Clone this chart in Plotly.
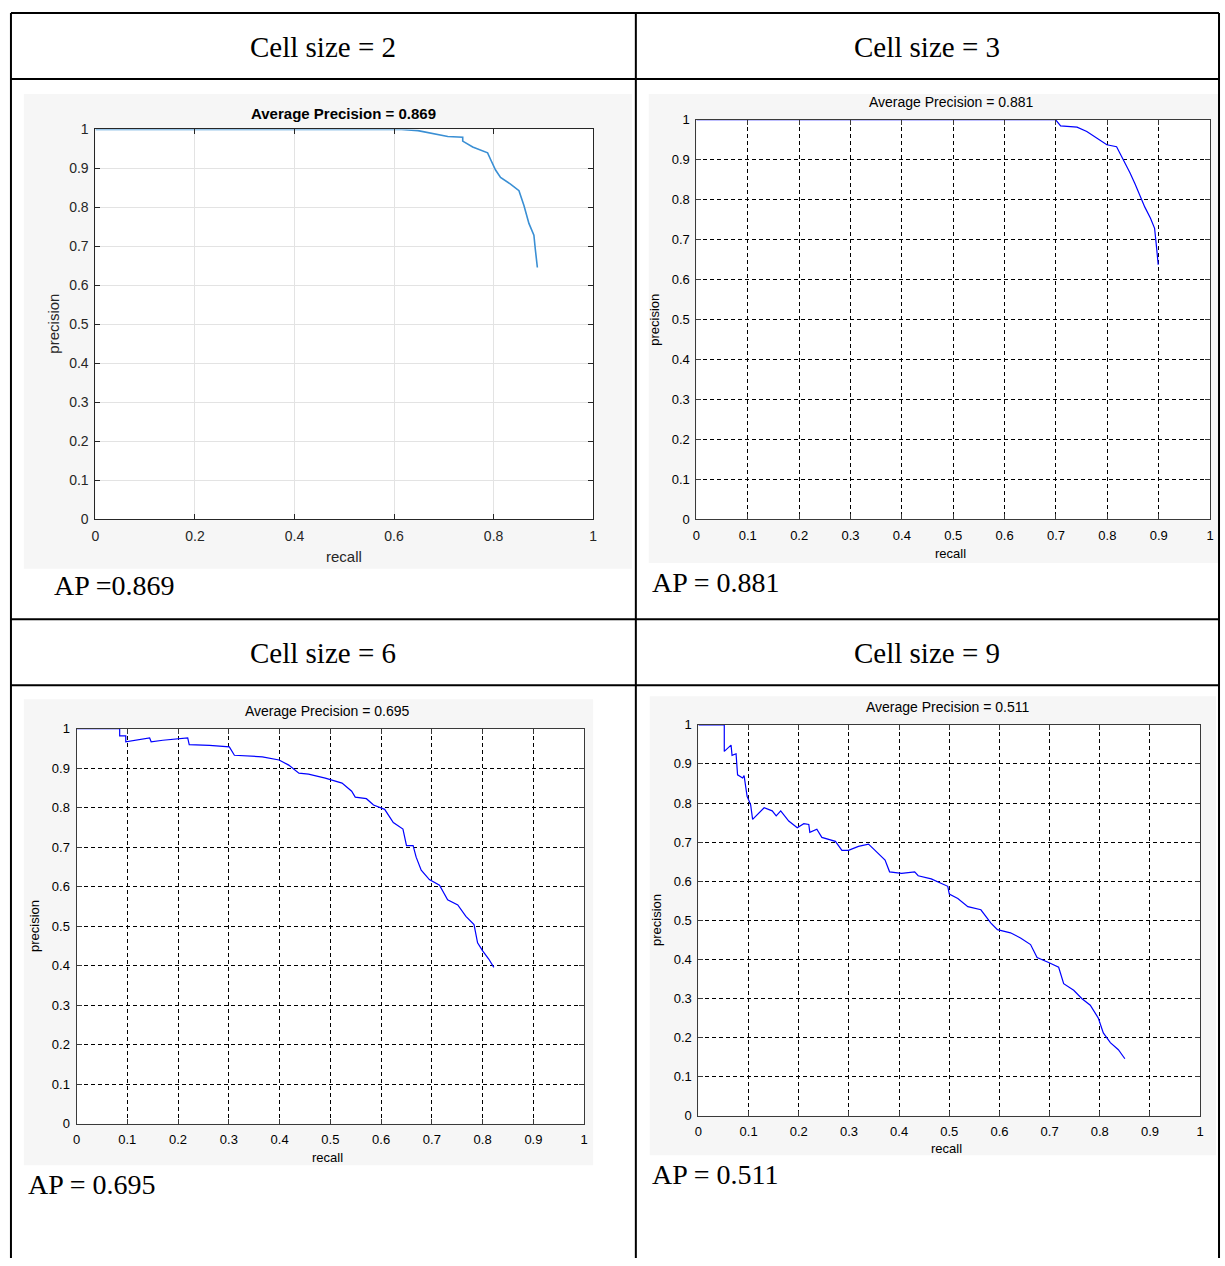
import plotly.graph_objects as go

W, H = 1225, 1266

# ---------------- data ----------------
headers = ["Cell size = 2", "Cell size = 3", "Cell size = 6", "Cell size = 9"]
titles = ["Average Precision = 0.869", "Average Precision = 0.881",
          "Average Precision = 0.695", "Average Precision = 0.511"]
ap_texts = ["AP =0.869", "AP = 0.881", "AP = 0.695", "AP = 0.511"]

recall_2 = [0, 0.615, 0.648, 0.708, 0.738, 0.738, 0.758, 0.788, 0.794, 0.804, 0.814,
            0.834, 0.851, 0.861, 0.871, 0.881, 0.884, 0.888]
precision_2 = [1, 1, 0.997, 0.982, 0.98, 0.97, 0.955, 0.94, 0.923, 0.896, 0.877,
               0.86, 0.843, 0.805, 0.759, 0.729, 0.691, 0.646]

recall_3 = [0, 0.699, 0.709, 0.741, 0.760, 0.779, 0.799, 0.818, 0.831, 0.844, 0.854,
            0.863, 0.873, 0.884, 0.892, 0.896, 0.899]
precision_3 = [1, 1, 0.984, 0.981, 0.970, 0.954, 0.937, 0.932, 0.9, 0.867, 0.839,
               0.81, 0.781, 0.753, 0.728, 0.678, 0.637]

recall_6 = [0, 0.085, 0.085, 0.097, 0.097, 0.144, 0.147, 0.17, 0.219, 0.222, 0.262,
            0.301, 0.311, 0.366, 0.399, 0.418, 0.438, 0.457, 0.49, 0.523, 0.542,
            0.549, 0.571, 0.585, 0.607, 0.624, 0.643, 0.65, 0.663, 0.669, 0.679,
            0.695, 0.715, 0.731, 0.751, 0.767, 0.783, 0.79, 0.80, 0.812, 0.822]
precision_6 = [1, 1, 0.982, 0.982, 0.967, 0.977, 0.967, 0.971, 0.977, 0.96, 0.958,
               0.954, 0.933, 0.929, 0.921, 0.908, 0.8875, 0.885, 0.875, 0.8625, 0.842,
               0.827, 0.823, 0.807, 0.796, 0.7625, 0.746, 0.704, 0.704, 0.675, 0.642,
               0.618, 0.604, 0.567, 0.554, 0.525, 0.504, 0.458, 0.4375, 0.417, 0.396]

recall_9 = [0, 0.0515, 0.0515, 0.065, 0.067, 0.075, 0.078, 0.088, 0.091, 0.097, 0.104,
            0.108, 0.131, 0.147, 0.155, 0.164, 0.18, 0.197, 0.21, 0.22, 0.222, 0.236,
            0.246, 0.273, 0.286, 0.299, 0.319, 0.339, 0.352, 0.372, 0.381, 0.405,
            0.431, 0.438, 0.464, 0.497, 0.5, 0.517, 0.537, 0.563, 0.583, 0.596,
            0.622, 0.642, 0.662, 0.675, 0.698, 0.718, 0.728, 0.748, 0.764, 0.781,
            0.797, 0.807, 0.821, 0.837, 0.85]
precision_9 = [1, 1, 0.932, 0.948, 0.922, 0.926, 0.872, 0.864, 0.87, 0.817, 0.796,
               0.758, 0.788, 0.78, 0.767, 0.78, 0.754, 0.737, 0.747, 0.745, 0.725, 0.733,
               0.712, 0.702, 0.679, 0.679, 0.689, 0.695, 0.679, 0.654, 0.624, 0.62,
               0.624, 0.614, 0.606, 0.587, 0.567, 0.556, 0.535, 0.527, 0.493, 0.476,
               0.468, 0.455, 0.438, 0.405, 0.392, 0.38, 0.338, 0.321, 0.3, 0.283,
               0.25, 0.212, 0.187, 0.169, 0.146]

series = [(recall_2, precision_2), (recall_3, precision_3),
          (recall_6, precision_6), (recall_9, precision_9)]

# ---------------- layout helpers ----------------
def px(x):
    return x / W

def py(y):
    return 1 - y / H

# plot-area boxes in pixels: (x0, x1, ytop, ybottom)
boxes = [(92, 593, 123, 518), (697, 1214, 113, 518),
         (73, 584, 730, 1130), (699, 1204, 726, 1122)]
panels = [(20, 632, 87, 568), (649, 1222, 87, 562),
          (20, 593, 700, 1172), (650, 1220, 697, 1162)]
title_pos = [(342, 107), (954, 95), (326, 712), (950, 708)]
xlabel_pos = [(342, 556), (953, 552), (326, 1164), (949, 1155)]
ylabel_pos = [(50, 320), (654, 316), (30, 930), (657, 924)]
ap_pos = [(48, 585), (650, 582), (22, 1192), (650, 1181)]
header_pos = [(321, 39), (929, 39), (321, 653), (929, 653)]

fig = go.Figure()
shapes = []
annotations = []
layout = {}

for i in range(4):
    n = "" if i == 0 else str(i + 1)
    r, p = series[i]
    modern = (i == 0)
    fig.add_trace(go.Scatter(
        x=r, y=p, mode="lines",
        line=dict(color="#3a8fd4" if modern else "#0000ff",
                  width=1.6 if modern else 1.2),
        xaxis="x" + n, yaxis="y" + n, showlegend=False, hoverinfo="skip"))

    x0, x1, yt, yb = boxes[i]
    fontsz = 14 if modern else 13
    tickcol = "#262626" if modern else "#000000"
    common = dict(
        range=[0, 1], showline=True, linewidth=1,
        linecolor="#262626" if modern else "#3a3a3a",
        mirror="ticks", ticks="inside", ticklen=5, tickwidth=1,
        tickcolor="#262626" if modern else "#3a3a3a",
        showgrid=True, gridwidth=1,
        gridcolor="#e3e3e3" if modern else "#000000",
        griddash="solid" if modern else "4px,3px",
        zeroline=False, fixedrange=True,
        tickfont=dict(family="Liberation Sans, Arial", size=fontsz, color=tickcol),
    )
    xa = dict(common, domain=[px(x0), px(x1)], anchor="y" + n,
              tick0=0, dtick=0.2 if modern else 0.1, ticklabelstandoff=4)
    ya = dict(common, domain=[py(yb), py(yt)], anchor="x" + n,
              tick0=0, dtick=0.1, ticklabelstandoff=3)
    layout["xaxis" + n] = xa
    layout["yaxis" + n] = ya

    # gray figure panel and white axes background
    gx0, gx1, gy0, gy1 = panels[i]
    shapes.append(dict(type="rect", xref="paper", yref="paper", layer="below",
                       x0=px(gx0), x1=px(gx1), y0=py(gy1), y1=py(gy0),
                       fillcolor="#f6f6f6", line=dict(width=0)))
    shapes.append(dict(type="rect", xref="paper", yref="paper", layer="below",
                       x0=px(x0), x1=px(x1), y0=py(yb), y1=py(yt),
                       fillcolor="#ffffff", line=dict(width=0)))

    tx, ty = title_pos[i]
    annotations.append(dict(
        x=px(tx), y=py(ty), xref="paper", yref="paper", showarrow=False,
        text=("<b>%s</b>" % titles[i]) if modern else titles[i],
        font=dict(family="Liberation Sans, Arial", size=15 if modern else 14,
                  color="#000000"),
        xanchor="center", yanchor="middle"))
    lx, ly = xlabel_pos[i]
    annotations.append(dict(
        x=px(lx), y=py(ly), xref="paper", yref="paper", showarrow=False,
        text="recall",
        font=dict(family="Liberation Sans, Arial", size=15 if modern else 13,
                  color="#262626" if modern else "#000000"),
        xanchor="center", yanchor="middle"))
    yx, yy = ylabel_pos[i]
    annotations.append(dict(
        x=px(yx), y=py(yy), xref="paper", yref="paper", showarrow=False,
        text="precision", textangle=-90,
        font=dict(family="Liberation Sans, Arial", size=15 if modern else 13,
                  color="#262626" if modern else "#000000"),
        xanchor="center", yanchor="middle"))
    ax, ay = ap_pos[i]
    annotations.append(dict(
        x=px(ax), y=py(ay), xref="paper", yref="paper", showarrow=False,
        text=ap_texts[i],
        font=dict(family="Liberation Serif, Times New Roman", size=28,
                  color="#000000"),
        xanchor="left", yanchor="middle"))
    hx, hy = header_pos[i]
    annotations.append(dict(
        x=px(hx), y=py(hy), xref="paper", yref="paper", showarrow=False,
        text=headers[i],
        font=dict(family="Liberation Serif, Times New Roman", size=29,
                  color="#000000"),
        xanchor="center", yanchor="middle"))

# table lines
line_style = dict(color="#000000", width=2)
table_lines = [
    (7, 5, 1223, 5),       # top
    (7, 5, 7, 1266),       # left
    (1223, 5, 1223, 1266), # right
    (636, 5, 636, 1266),   # middle
    (7, 72, 1223, 72),
    (7, 619, 1223, 619),
    (7, 686, 1223, 686),
]
for (a, b, c, d) in table_lines:
    shapes.append(dict(type="line", xref="paper", yref="paper", layer="above",
                       x0=px(a), y0=py(b), x1=px(c), y1=py(d), line=line_style))

fig.update_layout(
    width=W, height=H, margin=dict(l=0, r=0, t=0, b=0),
    paper_bgcolor="#ffffff", plot_bgcolor="rgba(0,0,0,0)",
    shapes=shapes, annotations=annotations, showlegend=False,
    **layout)

fig.write_html(
    "out.html",
    config={"responsive": False, "displayModeBar": False},
    post_script=(
        "document.body.style.margin='0';document.body.style.padding='0';"
        "document.body.style.overflow='hidden';"
        "document.documentElement.style.overflow='hidden';"
    ),
)
